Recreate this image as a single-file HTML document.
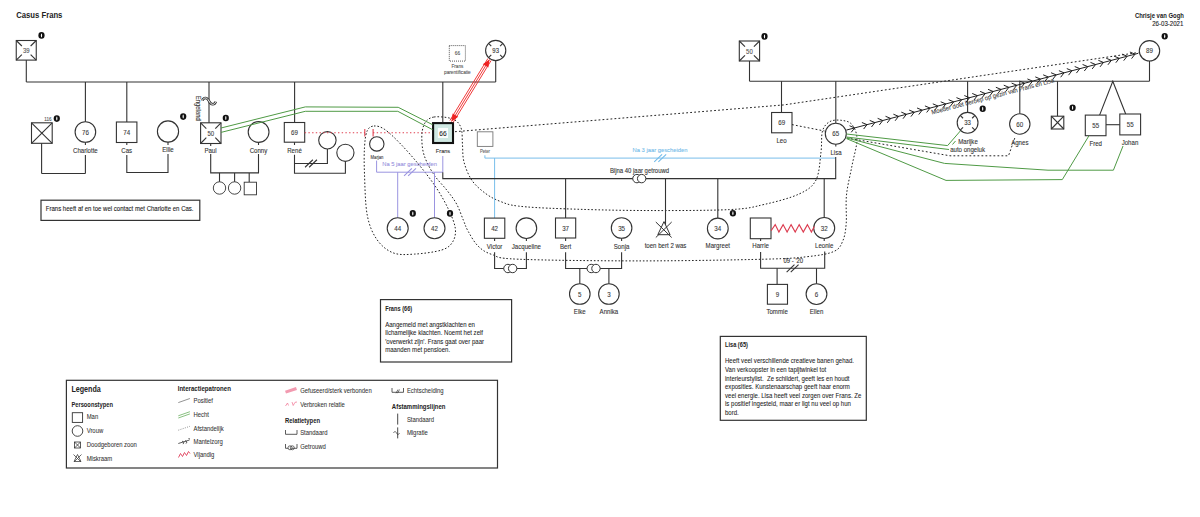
<!DOCTYPE html>
<html><head><meta charset="utf-8"><style>
html,body{margin:0;padding:0;background:#fff;}
svg{display:block;font-family:"Liberation Sans",sans-serif;}
</style></head><body>
<svg width="1200" height="517" viewBox="0 0 1200 517">
<rect width="1200" height="517" fill="#fff"/>
<text x="16.2" y="17.8" font-size="9.240" textLength="46.22" lengthAdjust="spacingAndGlyphs" font-weight="700" fill="#222">Casus Frans</text>
<text x="1134.9" y="17.8" font-size="6.5" font-weight="700" fill="#222" textLength="49" lengthAdjust="spacingAndGlyphs">Chrisje van Gogh</text>
<text x="1152.2" y="25.9" font-size="6.5" fill="#222" textLength="31.2" lengthAdjust="spacingAndGlyphs" stroke="#222" stroke-width="0.1">26-03-2021</text>
<line x1="26.3" y1="60" x2="26.3" y2="82" stroke="#333" stroke-width="1.1" />
<line x1="26.3" y1="82" x2="495.7" y2="82" stroke="#333" stroke-width="1.1" />
<line x1="495.7" y1="60.6" x2="495.7" y2="82" stroke="#333" stroke-width="1.1" />
<line x1="85.4" y1="82" x2="85.4" y2="122" stroke="#333" stroke-width="1.1" />
<line x1="126.8" y1="82" x2="126.8" y2="122" stroke="#333" stroke-width="1.1" />
<line x1="209" y1="82" x2="209" y2="123" stroke="#333" stroke-width="1.1" />
<line x1="294.6" y1="82" x2="294.6" y2="122.5" stroke="#333" stroke-width="1.1" />
<line x1="442.8" y1="82" x2="442.8" y2="122" stroke="#333" stroke-width="1.1" />
<rect x="16.25" y="40.5" width="20.00" height="19.60" fill="#fff" stroke="#333" stroke-width="1.1" />
<line x1="16.25" y1="40.5" x2="21.85" y2="45.988" stroke="#333" stroke-width="1.1" />
<line x1="36.25" y1="40.5" x2="30.65" y2="45.988" stroke="#333" stroke-width="1.1" />
<line x1="16.25" y1="60.1" x2="21.85" y2="54.612" stroke="#333" stroke-width="1.1" />
<line x1="36.25" y1="60.1" x2="30.65" y2="54.612" stroke="#333" stroke-width="1.1" />
<text x="26.25" y="52.81" font-size="6.480" textLength="6.67" lengthAdjust="spacingAndGlyphs" text-anchor="middle" fill="#555" font-weight="400"  stroke="#555" stroke-width="0.1">39</text>
<ellipse cx="41.5" cy="35.4" rx="3.1" ry="3.3" fill="#111"/><ellipse cx="41.5" cy="35.4" rx="0.6" ry="2.0" fill="#fff"/>
<circle cx="495.7" cy="50.5" r="10.1" fill="#fff" stroke="#333" stroke-width="1.1" />
<line x1="502.84" y1="57.64" x2="500.13" y2="54.93" stroke="#333" stroke-width="1.1" />
<line x1="488.56" y1="57.64" x2="491.27" y2="54.93" stroke="#333" stroke-width="1.1" />
<line x1="488.56" y1="43.36" x2="491.27" y2="46.07" stroke="#333" stroke-width="1.1" />
<line x1="502.84" y1="43.36" x2="500.13" y2="46.07" stroke="#333" stroke-width="1.1" />
<text x="495.7" y="53.01" font-size="6.480" textLength="6.67" lengthAdjust="spacingAndGlyphs" text-anchor="middle" fill="#333" font-weight="400"  stroke="#333" stroke-width="0.1">93</text>
<rect x="449.3" y="45.6" width="16.10" height="15.50" fill="#fff" stroke="#444" stroke-width="0.9" stroke-dasharray="1,1"/>
<text x="457.4" y="55.48" font-size="5.184" textLength="5.34" lengthAdjust="spacingAndGlyphs" text-anchor="middle" fill="#555" font-weight="400"  stroke="#555" stroke-width="0.1">66</text>
<text x="457.4" y="68.31" font-size="4.968" textLength="11.76" lengthAdjust="spacingAndGlyphs" text-anchor="middle" fill="#555" font-weight="400"  stroke="#555" stroke-width="0.1">Frans</text>
<text x="457.4" y="74.14" font-size="5.076" textLength="26.65" lengthAdjust="spacingAndGlyphs" text-anchor="middle" fill="#555" font-weight="400"  stroke="#555" stroke-width="0.1">parentificatie</text>
<rect x="31.5" y="122.8" width="20.70" height="20.50" fill="#fff" stroke="#333" stroke-width="1.1" />
<line x1="31.5" y1="122.8" x2="52.2" y2="143.3" stroke="#333" stroke-width="1.1" />
<line x1="52.2" y1="122.8" x2="31.5" y2="143.3" stroke="#333" stroke-width="1.1" />
<text x="48" y="121.01" font-size="4.968" textLength="7.33" lengthAdjust="spacingAndGlyphs" text-anchor="middle" fill="#555" font-weight="400"  stroke="#555" stroke-width="0.1">116</text>
<ellipse cx="56.8" cy="118.6" rx="3.1" ry="3.3" fill="#111"/><ellipse cx="56.8" cy="118.6" rx="0.6" ry="2.0" fill="#fff"/>
<circle cx="85.4" cy="132" r="10.3" fill="#fff" stroke="#333" stroke-width="1.1" />
<text x="85.4" y="134.58" font-size="6.696" textLength="6.90" lengthAdjust="spacingAndGlyphs" text-anchor="middle" fill="#3a3a3a" font-weight="400"  stroke="#3a3a3a" stroke-width="0.1">76</text>
<text x="85.4" y="152.55" font-size="6.588" textLength="24.75" lengthAdjust="spacingAndGlyphs" text-anchor="middle" fill="#333" font-weight="400"  stroke="#333" stroke-width="0.1">Charlotte</text>
<line x1="41.6" y1="143.3" x2="41.6" y2="173.5" stroke="#333" stroke-width="1.1" />
<line x1="41.6" y1="173.5" x2="85.4" y2="173.5" stroke="#333" stroke-width="1.1" />
<line x1="85.4" y1="155" x2="85.4" y2="173.5" stroke="#333" stroke-width="1.1" />
<line x1="85.4" y1="142.3" x2="85.4" y2="145" stroke="#333" stroke-width="1.1" />
<rect x="116.4" y="122" width="20.50" height="20.50" fill="#fff" stroke="#333" stroke-width="1.1" />
<text x="126.65" y="134.83" font-size="6.696" textLength="6.90" lengthAdjust="spacingAndGlyphs" text-anchor="middle" fill="#3a3a3a" font-weight="400"  stroke="#3a3a3a" stroke-width="0.1">74</text>
<text x="126.7" y="152.55" font-size="6.588" textLength="10.85" lengthAdjust="spacingAndGlyphs" text-anchor="middle" fill="#333" font-weight="400"  stroke="#333" stroke-width="0.1">Cas</text>
<circle cx="168" cy="131.5" r="10.6" fill="#fff" stroke="#333" stroke-width="1.1" />
<text x="168" y="151.85" font-size="6.588" textLength="11.53" lengthAdjust="spacingAndGlyphs" text-anchor="middle" fill="#333" font-weight="400"  stroke="#333" stroke-width="0.1">Ellie</text>
<ellipse cx="183.2" cy="116.6" rx="3.1" ry="3.3" fill="#111"/><ellipse cx="183.2" cy="116.6" rx="0.6" ry="2.0" fill="#fff"/>
<polyline points="126.8,155 126.8,172.5 168,172.5 168,154" fill="none" stroke="#333" stroke-width="1.1" />
<line x1="126.8" y1="142.5" x2="126.8" y2="145" stroke="#333" stroke-width="1.1" />
<line x1="168" y1="142.1" x2="168" y2="145" stroke="#333" stroke-width="1.1" />
<rect x="200.6" y="122.8" width="20.40" height="20.70" fill="#fff" stroke="#333" stroke-width="1.1" />
<line x1="200.6" y1="122.8" x2="206.31199999999998" y2="128.596" stroke="#333" stroke-width="1.1" />
<line x1="221" y1="122.8" x2="215.288" y2="128.596" stroke="#333" stroke-width="1.1" />
<line x1="200.6" y1="143.5" x2="206.31199999999998" y2="137.704" stroke="#333" stroke-width="1.1" />
<line x1="221" y1="143.5" x2="215.288" y2="137.704" stroke="#333" stroke-width="1.1" />
<text x="210.8" y="135.66" font-size="6.480" textLength="6.67" lengthAdjust="spacingAndGlyphs" text-anchor="middle" fill="#444" font-weight="400"  stroke="#444" stroke-width="0.1">50</text>
<text x="210.5" y="153.05" font-size="6.588" textLength="12.21" lengthAdjust="spacingAndGlyphs" text-anchor="middle" fill="#333" font-weight="400"  stroke="#333" stroke-width="0.1">Paul</text>
<ellipse cx="225.8" cy="118" rx="3.1" ry="3.3" fill="#111"/><ellipse cx="225.8" cy="118" rx="0.6" ry="2.0" fill="#fff"/>
<path d="M202.3,100.6 C203.5,97.2 207,96.8 209,101 C211,105.2 214.5,105.4 215.8,101.6" fill="none" stroke="#333" stroke-width="2.6"/><path d="M202.3,100.6 C203.5,97.2 207,96.8 209,101 C211,105.2 214.5,105.4 215.8,101.6" fill="none" stroke="#fff" stroke-width="1.0"/>
<text transform="translate(196,95.8) rotate(90)" font-size="6.372" textLength="24.93" lengthAdjust="spacingAndGlyphs" fill="#444" x="0" y="0" stroke="#444" stroke-width="0.1">Engeland</text>
<circle cx="258.6" cy="132" r="10.4" fill="#fff" stroke="#333" stroke-width="1.1" />
<text x="258.5" y="152.55" font-size="6.588" textLength="17.63" lengthAdjust="spacingAndGlyphs" text-anchor="middle" fill="#333" font-weight="400"  stroke="#333" stroke-width="0.1">Conny</text>
<polyline points="210.7,154 210.7,172.9 258.5,172.9 258.5,154" fill="none" stroke="#333" stroke-width="1.1" />
<line x1="210.7" y1="143.5" x2="210.7" y2="146" stroke="#333" stroke-width="1.1" />
<line x1="258.5" y1="142.4" x2="258.5" y2="145" stroke="#333" stroke-width="1.1" />
<line x1="219.5" y1="172.9" x2="219.5" y2="182" stroke="#333" stroke-width="1.1" />
<line x1="234.6" y1="172.9" x2="234.6" y2="182" stroke="#333" stroke-width="1.1" />
<line x1="249.2" y1="172.9" x2="249.2" y2="182" stroke="#333" stroke-width="1.1" />
<circle cx="219.5" cy="188" r="6.2" fill="#fff" stroke="#333" stroke-width="0.9" />
<circle cx="234.6" cy="188" r="6.2" fill="#fff" stroke="#333" stroke-width="0.9" />
<rect x="244.2" y="182.2" width="12.30" height="12.60" fill="#fff" stroke="#333" stroke-width="0.9" />
<rect x="284.3" y="122.5" width="20.40" height="19.70" fill="#fff" stroke="#333" stroke-width="1.1" />
<text x="294.5" y="134.93" font-size="6.696" textLength="6.90" lengthAdjust="spacingAndGlyphs" text-anchor="middle" fill="#3a3a3a" font-weight="400"  stroke="#3a3a3a" stroke-width="0.1">69</text>
<text x="294.5" y="152.55" font-size="6.588" textLength="14.58" lengthAdjust="spacingAndGlyphs" text-anchor="middle" fill="#333" font-weight="400"  stroke="#333" stroke-width="0.1">René</text>
<circle cx="327.4" cy="140.3" r="8.7" fill="#fff" stroke="#333" stroke-width="1.1" />
<circle cx="345.4" cy="152.8" r="8.6" fill="#fff" stroke="#333" stroke-width="1.1" />
<polyline points="294.5,154.8 294.5,173.2 345.4,173.2 345.4,161.4" fill="none" stroke="#333" stroke-width="1.1" />
<polyline points="294.5,163.5 327.4,163.5 327.4,149" fill="none" stroke="#333" stroke-width="1.1" />
<line x1="294.5" y1="142.2" x2="294.5" y2="145" stroke="#333" stroke-width="1.1" />
<line x1="305.05" y1="167.24" x2="312.85" y2="159.76" stroke="#333" stroke-width="1.1" />
<line x1="309.15" y1="167.24" x2="316.95" y2="159.76" stroke="#333" stroke-width="1.1" />
<line x1="304.7" y1="132.8" x2="365" y2="132.8" stroke="#e04050" stroke-width="1.1" stroke-dasharray="1.4,2.3"/>
<line x1="373" y1="132.8" x2="432" y2="132.8" stroke="#e04050" stroke-width="1.1" stroke-dasharray="1.4,2.3"/>
<line x1="364.8" y1="129" x2="364.8" y2="136.5" stroke="#e04050" stroke-width="1.1" />
<line x1="373.1" y1="129" x2="373.1" y2="136.5" stroke="#e04050" stroke-width="1.1" />
<circle cx="376.8" cy="143.9" r="7.2" fill="#fff" stroke="#333" stroke-width="1.1" />
<text x="377" y="158.86" font-size="4.536" textLength="12.84" lengthAdjust="spacingAndGlyphs" text-anchor="middle" fill="#444" font-weight="400"  stroke="#444" stroke-width="0.1">Marjan</text>
<rect x="477.3" y="131.8" width="15.60" height="14.60" fill="#fff" stroke="#777" stroke-width="0.9" />
<text x="484.9" y="153.06" font-size="4.536" textLength="10.04" lengthAdjust="spacingAndGlyphs" text-anchor="middle" fill="#666" font-weight="400"  stroke="#666" stroke-width="0.1">Peter</text>
<path d="M374.00,126.00 C376.93,125.78 380.30,126.43 384.80,129.50 C389.30,132.57 395.13,138.32 401.00,144.40 C406.87,150.48 414.12,158.77 420.00,166.00 C425.88,173.23 431.55,180.57 436.30,187.80 C441.05,195.03 445.33,202.63 448.50,209.40 C451.67,216.17 454.62,222.97 455.30,228.40 C455.98,233.83 454.87,238.40 452.60,242.00 C450.33,245.60 448.03,247.98 441.70,250.00 C435.37,252.02 422.72,253.63 414.60,254.10 C406.48,254.57 399.32,255.28 393.00,252.80 C386.68,250.32 381.00,245.52 376.70,239.20 C372.40,232.88 369.23,225.73 367.20,214.90 C365.17,204.07 364.95,185.50 364.50,174.20 C364.05,162.90 364.05,154.33 364.50,147.10 C364.95,139.87 365.62,134.32 367.20,130.80 C368.78,127.28 371.07,126.22 374.00,126.00 Z" fill="none" stroke="#222" stroke-width="1.0" stroke-dasharray="1.6,1.9"/>
<path d="M434.10,117.00 C436.53,116.58 439.78,116.75 442.60,117.00 C445.42,117.25 448.52,117.67 451.00,118.50 C453.48,119.33 455.73,120.08 457.50,122.00 C459.27,123.92 460.77,126.17 461.60,130.00 C462.43,133.83 462.10,139.67 462.50,145.00 C462.90,150.33 462.42,156.08 464.00,162.00 C465.58,167.92 468.33,175.20 472.00,180.50 C475.67,185.80 481.25,190.30 486.00,193.80 C490.75,197.30 495.12,199.45 500.50,201.50 C505.88,203.55 508.08,204.90 518.30,206.10 C528.52,207.30 541.52,207.97 561.80,208.70 C582.08,209.43 612.03,210.35 640.00,210.50 C667.97,210.65 708.87,210.62 729.60,209.60 C750.33,208.58 752.78,207.02 764.40,204.40 C776.02,201.78 790.70,197.97 799.30,193.90 C807.90,189.83 812.38,186.98 816.00,180.00 C819.62,173.02 819.92,160.17 821.00,152.00 C822.08,143.83 821.00,136.08 822.50,131.00 C824.00,125.92 826.75,123.27 830.00,121.50 C833.25,119.73 838.33,119.88 842.00,120.40 C845.67,120.92 849.50,121.43 852.00,124.60 C854.50,127.77 857.00,132.55 857.00,139.40 C857.00,146.25 853.75,156.43 852.00,165.70 C850.25,174.97 847.47,185.37 846.50,195.00 C845.53,204.63 846.82,215.85 846.20,223.50 C845.58,231.15 844.83,236.25 842.80,240.90 C840.77,245.55 839.80,248.78 834.00,251.40 C828.20,254.02 819.60,255.30 808.00,256.60 C796.40,257.90 792.40,258.48 764.40,259.20 C736.40,259.92 681.02,260.90 640.00,260.90 C598.98,260.90 542.97,260.27 518.30,259.20 C493.63,258.13 498.72,256.70 492.00,254.50 C485.28,252.30 482.00,249.92 478.00,246.00 C474.00,242.08 470.43,235.28 468.00,231.00 C465.57,226.72 465.30,224.80 463.40,220.30 C461.50,215.80 459.32,208.97 456.60,204.00 C453.88,199.03 450.93,195.47 447.10,190.50 C443.27,185.53 437.43,180.08 433.60,174.20 C429.77,168.32 426.07,161.23 424.10,155.20 C422.13,149.17 421.90,142.87 421.80,138.00 C421.70,133.13 422.47,129.08 423.50,126.00 C424.53,122.92 426.23,121.00 428.00,119.50 C429.77,118.00 431.67,117.42 434.10,117.00 Z" fill="none" stroke="#222" stroke-width="1.0" stroke-dasharray="1.6,1.9"/>
<polyline points="455,131.7 784,104.9 1138.3,52.5" fill="none" stroke="#222" stroke-width="1.0" stroke-dasharray="1.8,2.2"/>
<polyline points="376.6,160.6 376.6,172.2 442.8,172.2 442.8,156" fill="none" stroke="#9a94e0" stroke-width="1.0" />
<line x1="397.7" y1="172.2" x2="397.7" y2="218" stroke="#9a94e0" stroke-width="1.0" />
<line x1="434.5" y1="172.2" x2="434.5" y2="218" stroke="#9a94e0" stroke-width="1.0" />
<line x1="404.05" y1="175.94" x2="411.85" y2="168.46" stroke="#9a94e0" stroke-width="1.1" />
<line x1="408.15" y1="175.94" x2="415.95" y2="168.46" stroke="#9a94e0" stroke-width="1.1" />
<text x="409.6" y="165.94" font-size="6.264" textLength="54.81" lengthAdjust="spacingAndGlyphs" text-anchor="middle" fill="#9a94e0" font-weight="400"  stroke="#9a94e0" stroke-width="0.1">Na 5 jaar gescheiden</text>
<circle cx="397.7" cy="228.3" r="10.5" fill="#fff" stroke="#333" stroke-width="1.1" />
<text x="397.7" y="230.88" font-size="6.696" textLength="6.90" lengthAdjust="spacingAndGlyphs" text-anchor="middle" fill="#3a3a3a" font-weight="400"  stroke="#3a3a3a" stroke-width="0.1">44</text>
<circle cx="434.5" cy="228.3" r="10.5" fill="#fff" stroke="#333" stroke-width="1.1" />
<text x="434.5" y="230.88" font-size="6.696" textLength="6.90" lengthAdjust="spacingAndGlyphs" text-anchor="middle" fill="#3a3a3a" font-weight="400"  stroke="#3a3a3a" stroke-width="0.1">42</text>
<ellipse cx="412.8" cy="213.4" rx="3.1" ry="3.3" fill="#111"/><ellipse cx="412.8" cy="213.4" rx="0.6" ry="2.0" fill="#fff"/>
<ellipse cx="450" cy="213.4" rx="3.1" ry="3.3" fill="#111"/><ellipse cx="450" cy="213.4" rx="0.6" ry="2.0" fill="#fff"/>
<rect x="433.1" y="123.1" width="19.9" height="19.9" fill="#cfe8e2" stroke="#111" stroke-width="2.1"/>
<rect x="437.9" y="127.9" width="10.1" height="10.1" fill="#fbfdfc"/>
<text x="443" y="135.73" font-size="7.128" textLength="7.34" lengthAdjust="spacingAndGlyphs" text-anchor="middle" fill="#222" font-weight="400"  stroke="#222" stroke-width="0.1">66</text>
<text x="443" y="153.37" font-size="6.048" textLength="14.31" lengthAdjust="spacingAndGlyphs" text-anchor="middle" fill="#333" font-weight="400"  stroke="#333" stroke-width="0.1">Frans</text>
<line x1="491.12" y1="60.49" x2="453.12" y2="122.49" stroke="#ee2222" stroke-width="0.9" />
<line x1="489.50" y1="59.50" x2="451.50" y2="121.50" stroke="#ee2222" stroke-width="0.9" />
<line x1="487.88" y1="58.51" x2="449.88" y2="120.51" stroke="#ee2222" stroke-width="0.9" />
<polygon points="489.50,59.50 482.77,64.17 488.39,67.62" fill="#ee2222"/>
<polygon points="451.50,121.50 452.61,113.38 458.23,116.83" fill="#ee2222"/>
<polyline points="221,128 305.3,106.9 398.2,107.3 432.6,124.7" fill="none" stroke="#4f9a45" stroke-width="1.0" />
<polyline points="221,132.4 305.3,111.3 397.8,111.3 432.6,129.7" fill="none" stroke="#4f9a45" stroke-width="1.0" />
<polyline points="484.9,155.3 484.9,158.1 835.7,158.1" fill="none" stroke="#72bbe9" stroke-width="0.95" />
<line x1="494.6" y1="158.1" x2="494.6" y2="218.1" stroke="#72bbe9" stroke-width="0.95" />
<line x1="654.25" y1="161.84" x2="662.05" y2="154.36" stroke="#72bbe9" stroke-width="1.1" />
<line x1="658.35" y1="161.84" x2="666.15" y2="154.36" stroke="#72bbe9" stroke-width="1.1" />
<text x="660" y="152.44" font-size="6.264" textLength="54.81" lengthAdjust="spacingAndGlyphs" text-anchor="middle" fill="#72bbe9" font-weight="400"  stroke="#72bbe9" stroke-width="0.1">Na 3 jaar gescheiden</text>
<polyline points="442.8,172.2 442.8,178.6 835.7,178.6 835.7,157" fill="none" stroke="#333" stroke-width="1.1" />
<text x="639.5" y="172.69" font-size="6.426" textLength="59.21" lengthAdjust="spacingAndGlyphs" text-anchor="middle" fill="#333" font-weight="400"  stroke="#333" stroke-width="0.1">Bijna 40 jaar getrouwd</text>
<circle cx="636.9499999999999" cy="178.6" r="4.2" fill="#fff" stroke="#333" stroke-width="1.0" />
<circle cx="641.65" cy="178.6" r="4.2" fill="#fff" stroke="#333" stroke-width="1.0" />
<line x1="565.6" y1="178.6" x2="565.6" y2="218" stroke="#333" stroke-width="1.1" />
<line x1="665.5" y1="178.6" x2="665.5" y2="224.7" stroke="#333" stroke-width="1.1" />
<line x1="717.8" y1="178.6" x2="717.8" y2="218" stroke="#333" stroke-width="1.1" />
<line x1="824.2" y1="178.6" x2="824.2" y2="218" stroke="#333" stroke-width="1.1" />
<rect x="484.4" y="218.1" width="20.40" height="20.20" fill="#fff" stroke="#333" stroke-width="1.1" />
<text x="494.6" y="230.78" font-size="6.696" textLength="6.90" lengthAdjust="spacingAndGlyphs" text-anchor="middle" fill="#3a3a3a" font-weight="400"  stroke="#3a3a3a" stroke-width="0.1">42</text>
<text x="494.6" y="248.55" font-size="6.588" textLength="15.48" lengthAdjust="spacingAndGlyphs" text-anchor="middle" fill="#333" font-weight="400"  stroke="#333" stroke-width="0.1">Victor</text>
<circle cx="526.4" cy="228.2" r="10.3" fill="#fff" stroke="#333" stroke-width="1.1" />
<text x="526.4" y="248.55" font-size="6.588" textLength="29.17" lengthAdjust="spacingAndGlyphs" text-anchor="middle" fill="#333" font-weight="400"  stroke="#333" stroke-width="0.1">Jacqueline</text>
<polyline points="494.6,252.3 494.6,268.5 526.4,268.5 526.4,252.3" fill="none" stroke="#333" stroke-width="1.1" />
<line x1="494.6" y1="238.3" x2="494.6" y2="241" stroke="#333" stroke-width="1.1" />
<line x1="526.4" y1="238.2" x2="526.4" y2="241" stroke="#333" stroke-width="1.1" />
<circle cx="507.95" cy="268.5" r="4.2" fill="#fff" stroke="#333" stroke-width="1.0" />
<circle cx="512.65" cy="268.5" r="4.2" fill="#fff" stroke="#333" stroke-width="1.0" />
<rect x="555.5" y="218" width="20.20" height="20.00" fill="#fff" stroke="#333" stroke-width="1.1" />
<text x="565.6" y="230.58" font-size="6.696" textLength="6.90" lengthAdjust="spacingAndGlyphs" text-anchor="middle" fill="#3a3a3a" font-weight="400"  stroke="#3a3a3a" stroke-width="0.1">37</text>
<text x="565.6" y="248.55" font-size="6.588" textLength="11.19" lengthAdjust="spacingAndGlyphs" text-anchor="middle" fill="#333" font-weight="400"  stroke="#333" stroke-width="0.1">Bert</text>
<circle cx="621.6" cy="228" r="10.3" fill="#fff" stroke="#333" stroke-width="1.1" />
<text x="621.6" y="230.58" font-size="6.696" textLength="6.90" lengthAdjust="spacingAndGlyphs" text-anchor="middle" fill="#3a3a3a" font-weight="400"  stroke="#3a3a3a" stroke-width="0.1">35</text>
<text x="621.6" y="248.55" font-size="6.588" textLength="15.60" lengthAdjust="spacingAndGlyphs" text-anchor="middle" fill="#333" font-weight="400"  stroke="#333" stroke-width="0.1">Sonja</text>
<polyline points="565.6,252.3 565.6,268.5 621.6,268.5 621.6,252.3" fill="none" stroke="#333" stroke-width="1.1" />
<line x1="565.6" y1="238" x2="565.6" y2="241" stroke="#333" stroke-width="1.1" />
<line x1="621.6" y1="238.3" x2="621.6" y2="241" stroke="#333" stroke-width="1.1" />
<circle cx="591.25" cy="268.5" r="4.2" fill="#fff" stroke="#333" stroke-width="1.0" />
<circle cx="595.95" cy="268.5" r="4.2" fill="#fff" stroke="#333" stroke-width="1.0" />
<line x1="579.8" y1="268.5" x2="579.8" y2="284" stroke="#333" stroke-width="1.1" />
<line x1="608.9" y1="268.5" x2="608.9" y2="284" stroke="#333" stroke-width="1.1" />
<circle cx="579.8" cy="294" r="10.3" fill="#fff" stroke="#333" stroke-width="1.1" />
<text x="579.8" y="296.58" font-size="6.696" textLength="3.45" lengthAdjust="spacingAndGlyphs" text-anchor="middle" fill="#3a3a3a" font-weight="400"  stroke="#3a3a3a" stroke-width="0.1">5</text>
<text x="579.8" y="314.05" font-size="6.588" textLength="11.87" lengthAdjust="spacingAndGlyphs" text-anchor="middle" fill="#333" font-weight="400"  stroke="#333" stroke-width="0.1">Elke</text>
<circle cx="608.9" cy="294" r="10.3" fill="#fff" stroke="#333" stroke-width="1.1" />
<text x="608.9" y="296.58" font-size="6.696" textLength="3.45" lengthAdjust="spacingAndGlyphs" text-anchor="middle" fill="#3a3a3a" font-weight="400"  stroke="#3a3a3a" stroke-width="0.1">3</text>
<text x="608.9" y="314.05" font-size="6.588" textLength="18.65" lengthAdjust="spacingAndGlyphs" text-anchor="middle" fill="#333" font-weight="400"  stroke="#333" stroke-width="0.1">Annika</text>
<path d="M664,221.6 L670.1,234.7 L657.8,234.7 Z M655.8,222 L671.7,237.5 M671.7,222 L655.8,237.5" fill="none" stroke="#333" stroke-width="1"/>
<text x="665.5" y="248.25" font-size="6.588" textLength="41.71" lengthAdjust="spacingAndGlyphs" text-anchor="middle" fill="#333" font-weight="400"  stroke="#333" stroke-width="0.1">toen bert 2 was</text>
<circle cx="717.8" cy="228.5" r="10.4" fill="#fff" stroke="#333" stroke-width="1.1" />
<text x="717.8" y="231.08" font-size="6.696" textLength="6.90" lengthAdjust="spacingAndGlyphs" text-anchor="middle" fill="#3a3a3a" font-weight="400"  stroke="#3a3a3a" stroke-width="0.1">34</text>
<text x="717.8" y="248.25" font-size="6.588" textLength="24.41" lengthAdjust="spacingAndGlyphs" text-anchor="middle" fill="#333" font-weight="400"  stroke="#333" stroke-width="0.1">Margreet</text>
<ellipse cx="732.9" cy="213.2" rx="3.1" ry="3.3" fill="#111"/><ellipse cx="732.9" cy="213.2" rx="0.6" ry="2.0" fill="#fff"/>
<rect x="750.3" y="218" width="20.70" height="20.70" fill="#fff" stroke="#333" stroke-width="1.1" />
<text x="760.6" y="248.25" font-size="6.588" textLength="16.61" lengthAdjust="spacingAndGlyphs" text-anchor="middle" fill="#333" font-weight="400"  stroke="#333" stroke-width="0.1">Harrie</text>
<circle cx="824.2" cy="228" r="10.5" fill="#fff" stroke="#333" stroke-width="1.1" />
<text x="824.2" y="230.58" font-size="6.696" textLength="6.90" lengthAdjust="spacingAndGlyphs" text-anchor="middle" fill="#3a3a3a" font-weight="400"  stroke="#3a3a3a" stroke-width="0.1">32</text>
<text x="824.2" y="247.55" font-size="6.588" textLength="18.32" lengthAdjust="spacingAndGlyphs" text-anchor="middle" fill="#333" font-weight="400"  stroke="#333" stroke-width="0.1">Leonie</text>
<polyline points="771.1,230.7 775.2,224.6 778.9,232.1 783.1,224.6 787.1,232.1 791.1,224.6 795.2,232.1 799.2,224.6 803.3,232.1 807.4,224.6 811.4,232.1 814.3,226.6" fill="none" stroke="#dc3b4f" stroke-width="1.15" />
<polyline points="760.6,252 760.6,268.3 824.7,268.3 824.7,251.6" fill="none" stroke="#333" stroke-width="1.1" />
<line x1="760.6" y1="238.7" x2="760.6" y2="241" stroke="#333" stroke-width="1.1" />
<line x1="824.2" y1="238.5" x2="824.2" y2="241" stroke="#333" stroke-width="1.1" />
<line x1="786.65" y1="272.04" x2="794.45" y2="264.56" stroke="#333" stroke-width="1.1" />
<line x1="790.75" y1="272.04" x2="798.55" y2="264.56" stroke="#333" stroke-width="1.1" />
<text x="793.3" y="262.61" font-size="6.480" textLength="19.83" lengthAdjust="spacingAndGlyphs" text-anchor="middle" fill="#333" font-weight="400"  stroke="#333" stroke-width="0.1">09 - '20</text>
<line x1="777.1" y1="268.3" x2="777.1" y2="284.4" stroke="#333" stroke-width="1.1" />
<line x1="816.5" y1="268.3" x2="816.5" y2="284" stroke="#333" stroke-width="1.1" />
<rect x="767.4" y="284.4" width="20.10" height="19.80" fill="#fff" stroke="#333" stroke-width="1.1" />
<text x="777.45" y="296.88" font-size="6.696" textLength="3.45" lengthAdjust="spacingAndGlyphs" text-anchor="middle" fill="#3a3a3a" font-weight="400"  stroke="#3a3a3a" stroke-width="0.1">9</text>
<text x="777.1" y="314.45" font-size="6.588" textLength="21.35" lengthAdjust="spacingAndGlyphs" text-anchor="middle" fill="#333" font-weight="400"  stroke="#333" stroke-width="0.1">Tommie</text>
<circle cx="816.5" cy="294.1" r="10.4" fill="#fff" stroke="#333" stroke-width="1.1" />
<text x="816.5" y="296.68" font-size="6.696" textLength="3.45" lengthAdjust="spacingAndGlyphs" text-anchor="middle" fill="#3a3a3a" font-weight="400"  stroke="#3a3a3a" stroke-width="0.1">6</text>
<text x="816.5" y="314.45" font-size="6.588" textLength="13.56" lengthAdjust="spacingAndGlyphs" text-anchor="middle" fill="#333" font-weight="400"  stroke="#333" stroke-width="0.1">Ellen</text>
<line x1="749.5" y1="61" x2="749.5" y2="81.2" stroke="#333" stroke-width="1.1" />
<line x1="749.5" y1="81.2" x2="1149.5" y2="81.2" stroke="#333" stroke-width="1.1" />
<line x1="1149.5" y1="61" x2="1149.5" y2="81.2" stroke="#333" stroke-width="1.1" />
<rect x="739.3" y="41" width="20.30" height="20.00" fill="#fff" stroke="#333" stroke-width="1.1" />
<line x1="739.3" y1="41" x2="744.9839999999999" y2="46.6" stroke="#333" stroke-width="1.1" />
<line x1="759.6" y1="41" x2="753.916" y2="46.6" stroke="#333" stroke-width="1.1" />
<line x1="739.3" y1="61" x2="744.9839999999999" y2="55.4" stroke="#333" stroke-width="1.1" />
<line x1="759.6" y1="61" x2="753.916" y2="55.4" stroke="#333" stroke-width="1.1" />
<text x="749.45" y="53.51" font-size="6.480" textLength="6.67" lengthAdjust="spacingAndGlyphs" text-anchor="middle" fill="#555" font-weight="400"  stroke="#555" stroke-width="0.1">50</text>
<ellipse cx="764.5" cy="36.4" rx="3.1" ry="3.3" fill="#111"/><ellipse cx="764.5" cy="36.4" rx="0.6" ry="2.0" fill="#fff"/>
<circle cx="1149.5" cy="50.8" r="10.2" fill="#fff" stroke="#333" stroke-width="1.1" />
<text x="1149.5" y="53.38" font-size="6.696" textLength="6.90" lengthAdjust="spacingAndGlyphs" text-anchor="middle" fill="#3a3a3a" font-weight="400"  stroke="#3a3a3a" stroke-width="0.1">89</text>
<ellipse cx="1164.7" cy="36.2" rx="3.1" ry="3.3" fill="#111"/><ellipse cx="1164.7" cy="36.2" rx="0.6" ry="2.0" fill="#fff"/>
<line x1="781.5" y1="81.2" x2="781.5" y2="112.5" stroke="#333" stroke-width="1.1" />
<rect x="771.6" y="112.5" width="20.40" height="20.30" fill="#fff" stroke="#333" stroke-width="1.1" />
<text x="781.8" y="125.23" font-size="6.696" textLength="6.90" lengthAdjust="spacingAndGlyphs" text-anchor="middle" fill="#3a3a3a" font-weight="400"  stroke="#3a3a3a" stroke-width="0.1">69</text>
<text x="781.5" y="142.95" font-size="6.588" textLength="10.18" lengthAdjust="spacingAndGlyphs" text-anchor="middle" fill="#333" font-weight="400"  stroke="#333" stroke-width="0.1">Leo</text>
<line x1="835.8" y1="81.2" x2="835.8" y2="123.3" stroke="#333" stroke-width="1.1" />
<circle cx="835.8" cy="133.8" r="10.5" fill="#fff" stroke="#333" stroke-width="1.1" />
<text x="835.8" y="136.38" font-size="6.696" textLength="6.90" lengthAdjust="spacingAndGlyphs" text-anchor="middle" fill="#3a3a3a" font-weight="400"  stroke="#3a3a3a" stroke-width="0.1">65</text>
<text x="836" y="154.55" font-size="6.588" textLength="11.19" lengthAdjust="spacingAndGlyphs" text-anchor="middle" fill="#333" font-weight="400"  stroke="#333" stroke-width="0.1">Lisa</text>
<line x1="835.8" y1="144.3" x2="835.8" y2="146.5" stroke="#333" stroke-width="1.1" />
<line x1="967.6" y1="81.2" x2="967.6" y2="112.4" stroke="#333" stroke-width="1.1" />
<circle cx="967.6" cy="122.8" r="10.4" fill="#fff" stroke="#333" stroke-width="1.1" />
<line x1="974.95" y1="130.15" x2="972.16" y2="127.36" stroke="#333" stroke-width="1.1" />
<line x1="960.25" y1="130.15" x2="963.04" y2="127.36" stroke="#333" stroke-width="1.1" />
<line x1="960.25" y1="115.45" x2="963.04" y2="118.24" stroke="#333" stroke-width="1.1" />
<line x1="974.95" y1="115.45" x2="972.16" y2="118.24" stroke="#333" stroke-width="1.1" />
<text x="967.6" y="125.31" font-size="6.480" textLength="6.67" lengthAdjust="spacingAndGlyphs" text-anchor="middle" fill="#333" font-weight="400"  stroke="#333" stroke-width="0.1">33</text>
<text x="968" y="143.75" font-size="6.588" textLength="19.66" lengthAdjust="spacingAndGlyphs" text-anchor="middle" fill="#333" font-weight="400"  stroke="#333" stroke-width="0.1">Marijke</text>
<text x="967.6" y="151.85" font-size="6.588" textLength="34.94" lengthAdjust="spacingAndGlyphs" text-anchor="middle" fill="#333" font-weight="400"  stroke="#333" stroke-width="0.1">auto ongeluk</text>
<ellipse cx="982.7" cy="108.7" rx="3.1" ry="3.3" fill="#111"/><ellipse cx="982.7" cy="108.7" rx="0.6" ry="2.0" fill="#fff"/>
<line x1="1019.8" y1="81.2" x2="1019.8" y2="113.8" stroke="#333" stroke-width="1.1" />
<circle cx="1019.8" cy="124" r="10.2" fill="#fff" stroke="#333" stroke-width="1.1" />
<text x="1019.8" y="126.58" font-size="6.696" textLength="6.90" lengthAdjust="spacingAndGlyphs" text-anchor="middle" fill="#3a3a3a" font-weight="400"  stroke="#3a3a3a" stroke-width="0.1">60</text>
<text x="1019.8" y="144.65" font-size="6.588" textLength="17.30" lengthAdjust="spacingAndGlyphs" text-anchor="middle" fill="#333" font-weight="400"  stroke="#333" stroke-width="0.1">Agnes</text>
<line x1="1057.5" y1="81.2" x2="1057.5" y2="116.2" stroke="#333" stroke-width="1.1" />
<rect x="1051.3" y="116.2" width="12.50" height="12.80" fill="#fff" stroke="#333" stroke-width="1.1" />
<line x1="1051.3" y1="116.2" x2="1063.8" y2="129" stroke="#333" stroke-width="1.1" />
<line x1="1063.8" y1="116.2" x2="1051.3" y2="129" stroke="#333" stroke-width="1.1" />
<ellipse cx="1072.6" cy="107.7" rx="3.1" ry="3.3" fill="#111"/><ellipse cx="1072.6" cy="107.7" rx="0.6" ry="2.0" fill="#fff"/>
<polyline points="1099.6,115.1 1112.8,81.2 1125.7,114" fill="none" stroke="#333" stroke-width="1.1" />
<rect x="1085.3" y="115.1" width="20.70" height="20.60" fill="#fff" stroke="#333" stroke-width="1.1" />
<text x="1095.65" y="127.98" font-size="6.696" textLength="6.90" lengthAdjust="spacingAndGlyphs" text-anchor="middle" fill="#3a3a3a" font-weight="400"  stroke="#3a3a3a" stroke-width="0.1">55</text>
<rect x="1119.8" y="114" width="20.80" height="20.90" fill="#fff" stroke="#333" stroke-width="1.1" />
<text x="1130.1999999999998" y="127.03" font-size="6.696" textLength="6.90" lengthAdjust="spacingAndGlyphs" text-anchor="middle" fill="#3a3a3a" font-weight="400"  stroke="#3a3a3a" stroke-width="0.1">55</text>
<line x1="1106" y1="124.7" x2="1119.8" y2="124.7" stroke="#333" stroke-width="1.1" />
<text x="1095.7" y="145.75" font-size="6.588" textLength="12.54" lengthAdjust="spacingAndGlyphs" text-anchor="middle" fill="#333" font-weight="400"  stroke="#333" stroke-width="0.1">Fred</text>
<text x="1130" y="144.65" font-size="6.588" textLength="16.62" lengthAdjust="spacingAndGlyphs" text-anchor="middle" fill="#333" font-weight="400"  stroke="#333" stroke-width="0.1">Johan</text>
<line x1="792" y1="124.6" x2="824.5" y2="131" stroke="#222" stroke-width="1.0" stroke-dasharray="1.8,2.2"/>
<polyline points="847,138 950,155.8 1008.5,155.8 1015.5,136" fill="none" stroke="#222" stroke-width="1.0" stroke-dasharray="1.8,2.2"/>
<polyline points="846.5,134 947.6,145.6 960.3,131" fill="none" stroke="#4f9a45" stroke-width="1.0" />
<polyline points="846.5,137 949,149.5" fill="none" stroke="#4f9a45" stroke-width="1.0" />
<line x1="952.5" y1="144.5" x2="955.5" y2="141" stroke="#4f9a45" stroke-width="1.0" />
<polyline points="846.5,137.9 944.5,163.4 1048,170.2 1113.4,170.2 1123,146" fill="none" stroke="#4f9a45" stroke-width="1.0" />
<polyline points="846.5,138.6 946,180.4 1062.3,179.6 1089,135.7" fill="none" stroke="#4f9a45" stroke-width="1.0" />
<line x1="846.3" y1="130.1" x2="1138.3" y2="53.3" stroke="#222" stroke-width="1.0" />
<polyline points="851.23,132.32 854.62,127.91 849.50,125.74" fill="none" stroke="#222" stroke-width="1.0"/>
<polyline points="863.61,129.06 867.00,124.66 861.88,122.49" fill="none" stroke="#222" stroke-width="1.0"/>
<polyline points="871.49,126.99 874.88,122.58 869.76,120.41" fill="none" stroke="#222" stroke-width="1.0"/>
<polyline points="879.37,124.92 882.76,120.51 877.64,118.34" fill="none" stroke="#222" stroke-width="1.0"/>
<polyline points="887.25,122.84 890.64,118.44 885.52,116.27" fill="none" stroke="#222" stroke-width="1.0"/>
<polyline points="895.13,120.77 898.52,116.36 893.40,114.20" fill="none" stroke="#222" stroke-width="1.0"/>
<polyline points="903.02,118.70 906.41,114.29 901.29,112.12" fill="none" stroke="#222" stroke-width="1.0"/>
<polyline points="910.90,116.63 914.29,112.22 909.17,110.05" fill="none" stroke="#222" stroke-width="1.0"/>
<polyline points="918.78,114.55 922.17,110.15 917.05,107.98" fill="none" stroke="#222" stroke-width="1.0"/>
<polyline points="926.66,112.48 930.05,108.07 924.93,105.90" fill="none" stroke="#222" stroke-width="1.0"/>
<polyline points="934.54,110.41 937.93,106.00 932.81,103.83" fill="none" stroke="#222" stroke-width="1.0"/>
<polyline points="942.43,108.33 945.82,103.93 940.70,101.76" fill="none" stroke="#222" stroke-width="1.0"/>
<polyline points="950.31,106.26 953.70,101.85 948.58,99.68" fill="none" stroke="#222" stroke-width="1.0"/>
<polyline points="958.19,104.19 961.58,99.78 956.46,97.61" fill="none" stroke="#222" stroke-width="1.0"/>
<polyline points="966.07,102.11 969.46,97.71 964.34,95.54" fill="none" stroke="#222" stroke-width="1.0"/>
<polyline points="973.95,100.04 977.34,95.63 972.22,93.46" fill="none" stroke="#222" stroke-width="1.0"/>
<polyline points="981.83,97.97 985.23,93.56 980.11,91.39" fill="none" stroke="#222" stroke-width="1.0"/>
<polyline points="989.72,95.90 993.11,91.49 987.99,89.32" fill="none" stroke="#222" stroke-width="1.0"/>
<polyline points="997.60,93.82 1000.99,89.41 995.87,87.25" fill="none" stroke="#222" stroke-width="1.0"/>
<polyline points="1005.48,91.75 1008.87,87.34 1003.75,85.17" fill="none" stroke="#222" stroke-width="1.0"/>
<polyline points="1013.36,89.68 1016.75,85.27 1011.63,83.10" fill="none" stroke="#222" stroke-width="1.0"/>
<polyline points="1021.24,87.60 1024.63,83.20 1019.51,81.03" fill="none" stroke="#222" stroke-width="1.0"/>
<polyline points="1029.13,85.53 1032.52,81.12 1027.40,78.95" fill="none" stroke="#222" stroke-width="1.0"/>
<polyline points="1037.01,83.46 1040.40,79.05 1035.28,76.88" fill="none" stroke="#222" stroke-width="1.0"/>
<polyline points="1044.89,81.38 1048.28,76.98 1043.16,74.81" fill="none" stroke="#222" stroke-width="1.0"/>
<polyline points="1052.77,79.31 1056.16,74.90 1051.04,72.73" fill="none" stroke="#222" stroke-width="1.0"/>
<polyline points="1060.65,77.24 1064.04,72.83 1058.92,70.66" fill="none" stroke="#222" stroke-width="1.0"/>
<polyline points="1068.54,75.16 1071.93,70.76 1066.81,68.59" fill="none" stroke="#222" stroke-width="1.0"/>
<polyline points="1076.42,73.09 1079.81,68.68 1074.69,66.52" fill="none" stroke="#222" stroke-width="1.0"/>
<polyline points="1084.30,71.02 1087.69,66.61 1082.57,64.44" fill="none" stroke="#222" stroke-width="1.0"/>
<polyline points="1092.18,68.95 1095.57,64.54 1090.45,62.37" fill="none" stroke="#222" stroke-width="1.0"/>
<polyline points="1100.06,66.87 1103.45,62.46 1098.33,60.30" fill="none" stroke="#222" stroke-width="1.0"/>
<polyline points="1107.95,64.80 1111.34,60.39 1106.22,58.22" fill="none" stroke="#222" stroke-width="1.0"/>
<polyline points="1115.83,62.73 1119.22,58.32 1114.10,56.15" fill="none" stroke="#222" stroke-width="1.0"/>
<polyline points="1123.71,60.65 1127.10,56.25 1121.98,54.08" fill="none" stroke="#222" stroke-width="1.0"/>
<polyline points="1131.59,58.58 1134.98,54.17 1129.86,52.00" fill="none" stroke="#222" stroke-width="1.0"/>
<text transform="translate(931.9,114.5) rotate(-14.74)" font-size="6.426" textLength="126.68" lengthAdjust="spacingAndGlyphs" fill="#444" stroke="#444" stroke-width="0.1">Moeder doet beroep op gezin van Frans en Lisa</text>
<rect x="41" y="200.2" width="158.80" height="20.20" fill="#fff" stroke="#333" stroke-width="1.2" />
<text x="45.75" y="211.3" font-size="6.512" textLength="147.81" lengthAdjust="spacingAndGlyphs" fill="#222" stroke="#222" stroke-width="0.1">Frans heeft af en toe wel contact met Charlotte en Cas.</text>
<rect x="380.5" y="299.6" width="131.10" height="62.40" fill="#fff" stroke="#333" stroke-width="1.2" />
<text x="385.2" y="310.6" font-size="6.780" textLength="27.00" lengthAdjust="spacingAndGlyphs" font-weight="700" fill="#222">Frans (66)</text>
<text x="385.2" y="326.90" font-size="6.534" textLength="89.80" lengthAdjust="spacingAndGlyphs" fill="#222" stroke="#222" stroke-width="0.06">Aangemeld met angstklachten en</text>
<text x="385.2" y="335.43" font-size="6.534" textLength="97.85" lengthAdjust="spacingAndGlyphs" fill="#222" stroke="#222" stroke-width="0.06">lichamelijke klachten. Noemt het zelf</text>
<text x="385.2" y="343.96" font-size="6.534" textLength="98.82" lengthAdjust="spacingAndGlyphs" fill="#222" stroke="#222" stroke-width="0.06">'overwerkt zijn'. Frans gaat over paar</text>
<text x="385.2" y="352.49" font-size="6.534" textLength="64.91" lengthAdjust="spacingAndGlyphs" fill="#222" stroke="#222" stroke-width="0.06">maanden met pensioen.</text>
<rect x="720.3" y="336.4" width="146.00" height="83.90" fill="#fff" stroke="#333" stroke-width="1.2" />
<text x="725" y="347.1" font-size="6.780" textLength="22.92" lengthAdjust="spacingAndGlyphs" font-weight="700" fill="#222">Lisa (65)</text>
<text x="725" y="363.40" font-size="6.523" textLength="128.94" lengthAdjust="spacingAndGlyphs" fill="#222" stroke="#222" stroke-width="0.06">Heeft veel verschillende creatieve banen gehad.</text>
<text x="725" y="371.98" font-size="6.523" textLength="101.28" lengthAdjust="spacingAndGlyphs" fill="#222" stroke="#222" stroke-width="0.06">Van verkoopster in een tapijtwinkel tot</text>
<text x="725" y="380.56" font-size="6.523" textLength="124.55" lengthAdjust="spacingAndGlyphs" fill="#222" stroke="#222" stroke-width="0.06">interieurstylist.&#160; Ze schildert, geeft les en houdt</text>
<text x="725" y="389.14" font-size="6.523" textLength="124.90" lengthAdjust="spacingAndGlyphs" fill="#222" stroke="#222" stroke-width="0.06">exposities. Kunstenaarschap geeft haar enorm</text>
<text x="725" y="397.72" font-size="6.523" textLength="136.31" lengthAdjust="spacingAndGlyphs" fill="#222" stroke="#222" stroke-width="0.06">veel energie. Lisa heeft veel zorgen over Frans. Ze</text>
<text x="725" y="406.30" font-size="6.523" textLength="125.91" lengthAdjust="spacingAndGlyphs" fill="#222" stroke="#222" stroke-width="0.06">is positief ingesteld, maar er ligt nu veel op hun</text>
<text x="725" y="414.88" font-size="6.523" textLength="13.77" lengthAdjust="spacingAndGlyphs" fill="#222" stroke="#222" stroke-width="0.06">bord.</text>
<rect x="66.4" y="380.3" width="431.10" height="87.70" fill="#fff" stroke="#333" stroke-width="1.2" />
<text x="71.4" y="391.9" font-size="8.580" textLength="29.40" lengthAdjust="spacingAndGlyphs" font-weight="700" fill="#222">Legenda</text>
<text x="71.4" y="406.9" font-size="6.900" textLength="41.54" lengthAdjust="spacingAndGlyphs" font-weight="700" fill="#222">Persoonstypen</text>
<rect x="72.3" y="412.7" width="10.30" height="9.70" fill="#fff" stroke="#333" stroke-width="0.9" />
<text x="86.7" y="419.37" font-size="6.372" textLength="11.48" lengthAdjust="spacingAndGlyphs" text-anchor="start" fill="#333" font-weight="400"  stroke="#333" stroke-width="0.06">Man</text>
<circle cx="77.5" cy="431" r="5.3" fill="#fff" stroke="#333" stroke-width="0.9" />
<text x="86.7" y="433.47" font-size="6.372" textLength="16.51" lengthAdjust="spacingAndGlyphs" text-anchor="start" fill="#333" font-weight="400"  stroke="#333" stroke-width="0.06">Vrouw</text>
<rect x="74.5" y="442" width="6.00" height="6.00" fill="#fff" stroke="#333" stroke-width="0.8" />
<line x1="74.5" y1="442" x2="80.5" y2="448" stroke="#333" stroke-width="0.8" />
<line x1="80.5" y1="442" x2="74.5" y2="448" stroke="#333" stroke-width="0.8" />
<text x="86.7" y="447.37" font-size="6.372" textLength="50.19" lengthAdjust="spacingAndGlyphs" text-anchor="start" fill="#333" font-weight="400"  stroke="#333" stroke-width="0.06">Doodgeboren zoon</text>
<path d="M77.5,454.5 L81,461.5 L74,461.5 Z M73.5,454.5 L81,462 M81.5,454.5 L74,462" fill="none" stroke="#444" stroke-width="0.8"/>
<text x="86.7" y="460.97" font-size="6.372" textLength="25.57" lengthAdjust="spacingAndGlyphs" text-anchor="start" fill="#333" font-weight="400"  stroke="#333" stroke-width="0.06">Miskraam</text>
<text x="177.7" y="390.6" font-size="7.320" textLength="53.22" lengthAdjust="spacingAndGlyphs" font-weight="700" fill="#222">Interactiepatronen</text>
<line x1="178.3" y1="402.6" x2="189.9" y2="398.5" stroke="#777" stroke-width="0.8" />
<text x="193.5" y="402.67" font-size="6.372" textLength="19.35" lengthAdjust="spacingAndGlyphs" text-anchor="start" fill="#333" font-weight="400"  stroke="#333" stroke-width="0.06">Positief</text>
<line x1="178.3" y1="415.8" x2="189.9" y2="411.7" stroke="#6ab060" stroke-width="0.8" />
<line x1="178.3" y1="418" x2="189.9" y2="413.9" stroke="#6ab060" stroke-width="0.8" />
<text x="193.5" y="416.67" font-size="6.372" textLength="15.41" lengthAdjust="spacingAndGlyphs" text-anchor="start" fill="#333" font-weight="400"  stroke="#333" stroke-width="0.06">Hecht</text>
<line x1="178.3" y1="430.2" x2="189.9" y2="426.3" stroke="#777" stroke-width="0.8" stroke-dasharray="1,1.3"/>
<text x="193.5" y="430.77" font-size="6.372" textLength="30.17" lengthAdjust="spacingAndGlyphs" text-anchor="start" fill="#333" font-weight="400"  stroke="#333" stroke-width="0.06">Afstandelijk</text>
<path d="M178.3,443.5 L189.5,440 M182,441 l2,1.5 l-1,1.6 M185,440.5 l2,1.5 l-1,1.6 M188.5,438.5 l1.5,0.5" fill="none" stroke="#333" stroke-width="0.8"/>
<text x="193.5" y="443.97" font-size="6.372" textLength="29.19" lengthAdjust="spacingAndGlyphs" text-anchor="start" fill="#333" font-weight="400"  stroke="#333" stroke-width="0.06">Mantelzorg</text>
<polyline points="178.5,457.5 180.5,453.5 182.5,456.5 184.5,452.5 186.5,455.5 188.5,451.5 190,453.5" fill="none" stroke="#e0405a" stroke-width="0.9" />
<text x="193.5" y="457.47" font-size="6.372" textLength="20.89" lengthAdjust="spacingAndGlyphs" text-anchor="start" fill="#333" font-weight="400"  stroke="#333" stroke-width="0.06">Vijandig</text>
<line x1="285.5" y1="392.2" x2="296.5" y2="388.5" stroke="#f29ab0" stroke-width="3.0" />
<text x="300.2" y="393.07" font-size="6.372" textLength="71.50" lengthAdjust="spacingAndGlyphs" text-anchor="start" fill="#333" font-weight="400"  stroke="#333" stroke-width="0.06">Gefuseerd/sterk verbonden</text>
<path d="M285.5,406 l2,-3 l1,2.5 M292,402 l1.2,3.5 l1.8,-3.2 l2,-0.3" fill="none" stroke="#f07090" stroke-width="0.7"/>
<text x="300.2" y="406.87" font-size="6.372" textLength="44.60" lengthAdjust="spacingAndGlyphs" text-anchor="start" fill="#333" font-weight="400"  stroke="#333" stroke-width="0.06">Verbroken relatie</text>
<text x="285" y="422.7" font-size="7.080" textLength="35.08" lengthAdjust="spacingAndGlyphs" font-weight="700" fill="#222">Relatietypen</text>
<polyline points="285.5,430 285.5,434.3 297,434.3 297,430" fill="none" stroke="#333" stroke-width="0.8" />
<text x="300.2" y="435.07" font-size="6.372" textLength="27.23" lengthAdjust="spacingAndGlyphs" text-anchor="start" fill="#333" font-weight="400"  stroke="#333" stroke-width="0.06">Standaard</text>
<polyline points="285.5,444 285.5,448.3 297,448.3 297,444" fill="none" stroke="#333" stroke-width="0.8" />
<circle cx="290" cy="447.8" r="2" fill="#fff" stroke="#333" stroke-width="0.7" />
<circle cx="292.3" cy="447.8" r="2" fill="none" stroke="#333" stroke-width="0.7" />
<text x="300.2" y="448.87" font-size="6.372" textLength="25.58" lengthAdjust="spacingAndGlyphs" text-anchor="start" fill="#333" font-weight="400"  stroke="#333" stroke-width="0.06">Getrouwd</text>
<polyline points="392,388 392,392.3 403.5,392.3 403.5,388" fill="none" stroke="#333" stroke-width="0.8" />
<line x1="396" y1="393.2" x2="398" y2="389.5" stroke="#333" stroke-width="0.7" />
<line x1="397.5" y1="393.2" x2="399.5" y2="389.5" stroke="#333" stroke-width="0.7" />
<text x="406.9" y="393.07" font-size="6.372" textLength="36.73" lengthAdjust="spacingAndGlyphs" text-anchor="start" fill="#333" font-weight="400"  stroke="#333" stroke-width="0.06">Echtscheiding</text>
<text x="391.8" y="408.7" font-size="7.200" textLength="53.68" lengthAdjust="spacingAndGlyphs" font-weight="700" fill="#222">Afstammingslijnen</text>
<line x1="397.7" y1="413.6" x2="397.7" y2="424.6" stroke="#333" stroke-width="0.9" />
<text x="406.9" y="421.57" font-size="6.372" textLength="27.23" lengthAdjust="spacingAndGlyphs" text-anchor="start" fill="#333" font-weight="400"  stroke="#333" stroke-width="0.06">Standaard</text>
<line x1="397.7" y1="427.4" x2="397.7" y2="438.4" stroke="#333" stroke-width="0.9" />
<path d="M393.5,433 c1,-2 2,-2 3,0 c1,2 2,2 3,0" fill="none" stroke="#333" stroke-width="0.7"/>
<text x="406.9" y="435.37" font-size="6.372" textLength="20.98" lengthAdjust="spacingAndGlyphs" text-anchor="start" fill="#333" font-weight="400"  stroke="#333" stroke-width="0.06">Migratie</text>
</svg></body></html>
